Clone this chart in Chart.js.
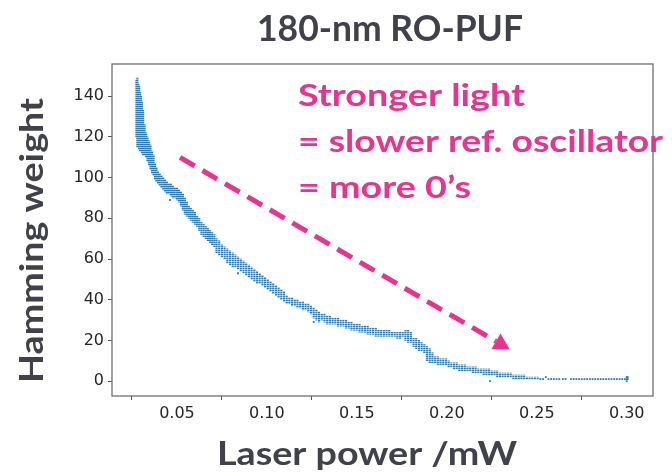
<!DOCTYPE html>
<html>
<head>
<meta charset="utf-8">
<script src="https://cdn.jsdelivr.net/npm/chart.js@4.4.1/dist/chart.umd.min.js"></script>
<style>
  html, body { margin: 0; padding: 0; background: #fff; }
</style>
</head>
<body>
<canvas id="chart" width="672" height="475"></canvas>
<script>
// Laser power (mW) of each sweep step, and the lowest / highest Hamming weight seen there
const power = [
  0.0275, 0.0280, 0.0285, 0.0290, 0.0295, 0.0300, 0.0305, 0.0312, 0.0320, 0.0328,
  0.0336, 0.0345, 0.0353, 0.0362, 0.0370, 0.0378, 0.0386, 0.0395, 0.0404, 0.0414,
  0.0424, 0.0434, 0.0444, 0.0455, 0.0466, 0.0477, 0.0488, 0.0500, 0.0511, 0.0522,
  0.0533, 0.0544, 0.0555, 0.0566, 0.0577, 0.0588, 0.0600, 0.0612, 0.0624, 0.0636,
  0.0648, 0.0660, 0.0672, 0.0684, 0.0696, 0.0708, 0.0720, 0.0735, 0.0750, 0.0765,
  0.0780, 0.0795, 0.0810, 0.0825, 0.0840, 0.0855, 0.0870, 0.0885, 0.0900, 0.0915,
  0.0930, 0.0945, 0.0960, 0.0975, 0.0990, 0.1005, 0.1020, 0.1035, 0.1050, 0.1065,
  0.1080, 0.1095, 0.1110, 0.1125, 0.1140, 0.1155, 0.1170, 0.1185, 0.1200, 0.1215,
  0.1230, 0.1245, 0.1260, 0.1275, 0.1290, 0.1305, 0.1320, 0.1335, 0.1350, 0.1365,
  0.1380, 0.1395, 0.1410, 0.1425, 0.1440, 0.1455, 0.1470, 0.1485, 0.1500, 0.1515,
  0.1530, 0.1545, 0.1560, 0.1575, 0.1590, 0.1605, 0.1620, 0.1635, 0.1650, 0.1665,
  0.1680, 0.1695, 0.1710, 0.1725, 0.1740, 0.1755, 0.1770, 0.1785, 0.1800, 0.1815,
  0.1830, 0.1845, 0.1860, 0.1875, 0.1890, 0.1905, 0.1920, 0.1935, 0.1950, 0.1965,
  0.1980, 0.1995, 0.2010, 0.2025, 0.2040, 0.2055, 0.2070, 0.2085, 0.2100, 0.2115,
  0.2130, 0.2145, 0.2160, 0.2175, 0.2190, 0.2205, 0.2220, 0.2235, 0.2250, 0.2265,
  0.2280, 0.2295, 0.2310, 0.2325, 0.2340, 0.2355, 0.2370, 0.2385, 0.2400, 0.2415,
  0.2430, 0.2445, 0.2460, 0.2475, 0.2490, 0.2505
];
const hwLow = [
  120, 115, 116, 114, 113, 113, 112, 111, 111, 110,
  108, 106, 104, 102, 101, 99, 98, 97, 96, 95,
  94, 93, 92, 92, 91, 90, 90, 89, 88, 86,
  84, 82, 81, 80, 79, 78, 77, 76, 74, 72,
  71, 70, 69, 68, 67, 66, 63, 62, 61, 60,
  58, 57, 56, 56, 55, 54, 53, 52, 51, 50,
  49, 48, 48, 47, 46, 45, 44, 43, 42, 41,
  40, 39, 38, 38, 37, 37, 36, 36, 35, 35,
  34, 33, 31, 30, 29, 30, 29, 28, 28, 28,
  28, 27, 27, 27, 26, 26, 25, 25, 25, 24,
  24, 24, 23, 23, 23, 22, 22, 22, 22, 22,
  22, 22, 22, 21, 21, 22, 20, 19, 19, 17,
  16, 15, 15, 14, 10, 9, 9, 9, 8, 8,
  8, 8, 7, 7, 6, 6, 5, 5, 5, 5,
  5, 4, 4, 4, 4, 3, 3, 3, 3, 3,
  2, 2, 2, 2, 2, 2, 1, 1, 1, 1,
  1, 1, 1, 1, 1, 1
];
const hwHigh = [
  148, 149, 146, 145, 142, 140, 137, 133, 126, 122,
  120, 118, 116, 113, 111, 107, 105, 103, 102, 101,
  100, 99, 98, 97, 97, 96, 95, 95, 94, 93,
  92, 90, 88, 86, 85, 84, 83, 81, 80, 78,
  77, 76, 75, 74, 73, 72, 70, 69, 67, 66,
  65, 64, 63, 62, 61, 60, 59, 58, 57, 56,
  55, 54, 53, 52, 51, 50, 49, 48, 47, 46,
  45, 44, 42, 41, 41, 40, 40, 39, 39, 38,
  38, 37, 36, 35, 34, 33, 33, 32, 32, 31,
  31, 31, 30, 30, 30, 29, 29, 28, 28, 28,
  27, 27, 27, 26, 26, 26, 25, 25, 25, 25,
  25, 24, 24, 24, 24, 24, 25, 25, 24, 21,
  21, 20, 19, 18, 17, 16, 14, 12, 12, 11,
  11, 11, 10, 9, 9, 9, 8, 8, 8, 7,
  7, 7, 7, 6, 6, 6, 6, 6, 5, 5,
  5, 4, 4, 4, 4, 4, 3, 3, 3, 3,
  3, 2, 2, 2, 2, 2
];

// single readings: the flat tail at high power and a few stray points
const dotPower = [
  0.2520, 0.2535, 0.2550, 0.2565, 0.2580, 0.2595, 0.2610, 0.2625, 0.2645, 0.2660,
  0.2690, 0.2705, 0.2720, 0.2735, 0.2750, 0.2765, 0.2780, 0.2795, 0.2810, 0.2825,
  0.2840, 0.2855, 0.2870, 0.2885, 0.2900, 0.2915, 0.2930, 0.2945, 0.2960, 0.2975,
  0.2990, 0.3000, 0.3000, 0.3000, 0.3005, 0.3005, 0.2240, 0.0461, 0.0839, 0.1260
];
const dotHW = [
  1, 1, 2, 1, 1, 1, 1, 1, 1, 1,
  1, 1, 1, 1, 1, 1, 1, 1, 1, 1,
  1, 1, 1, 1, 1, 1, 1, 1, 1, 1,
  1, 0, 1, 2, 1, 2, 0, 89, 53, 29
];

const xTickValues = [0.05, 0.10, 0.15, 0.20, 0.25, 0.30];
const yTickValues = [0, 20, 40, 60, 80, 100, 120, 140];

const titleText = "180-nm RO-PUF";
const xLabel = "Laser power /mW";
const yLabel = "Hamming weight";
const noteLines = ["Stronger light", "= slower ref. oscillator", "= more 0\u2019s"];
const arrowFrom = [0.0517, 109.9];
const arrowTo = [0.235, 15.6];

const BLUE = "#1f77b4";
const PINK = "#e8338f";
const GREY_TEXT = "#41414c";

// dotted look of stacked markers
function dotPattern() {
  const c = document.createElement("canvas");
  c.width = 2;
  c.height = 2;
  const g = c.getContext("2d");
  g.fillStyle = "#9cc2e0";
  g.fillRect(0, 0, 2, 2);
  g.fillStyle = "#2a7db8";
  g.fillRect(0, 0, 2, 1);
  return g.createPattern(c, "repeat");
}

// draw bold text squeezed/stretched to a given width
function fitText(ctx, text, x, y, width, size, color, angle) {
  ctx.save();
  ctx.font = "bold " + size + "px Lato, 'Open Sans', sans-serif";
  const w = ctx.measureText(text).width;
  ctx.translate(x, y);
  if (angle) ctx.rotate(angle);
  ctx.scale(width / w, 1);
  ctx.fillStyle = color;
  ctx.textAlign = "left";
  ctx.textBaseline = "alphabetic";
  ctx.fillText(text, 0, 0);
  ctx.restore();
}

const decorPlugin = {
  id: "decor",
  beforeDatasetsDraw(chart) {
    const { ctx, chartArea: a } = chart;
    ctx.save();
    ctx.strokeStyle = "#6f6f6f";
    ctx.lineWidth = 1.3;
    ctx.strokeRect(a.left, a.top, a.right - a.left, a.bottom - a.top);
    ctx.restore();
  },
  afterDraw(chart) {
    const { ctx } = chart;
    const xs = chart.scales.x;
    const ys = chart.scales.y;

    fitText(ctx, titleText, 257, 41, 266, 36, GREY_TEXT);
    fitText(ctx, xLabel, 217, 465, 300, 32, GREY_TEXT);
    fitText(ctx, yLabel, 43, 383, 285, 32, GREY_TEXT, -Math.PI / 2);

    const widths = [227, 365, 173];
    const baselines = [105.5, 151.5, 197.5];
    noteLines.forEach((t, i) => fitText(ctx, t, 298, baselines[i], widths[i], 30, PINK));

    // dashed arrow
    const x0 = xs.getPixelForValue(arrowFrom[0]);
    const y0 = ys.getPixelForValue(arrowFrom[1]);
    const x1 = xs.getPixelForValue(arrowTo[0]);
    const y1 = ys.getPixelForValue(arrowTo[1]);
    const len = Math.hypot(x1 - x0, y1 - y0);
    const ux = (x1 - x0) / len;
    const uy = (y1 - y0) / len;
    const headLen = 16;
    const headHalf = 9;
    const bx = x1 - ux * headLen;
    const by = y1 - uy * headLen;
    ctx.save();
    ctx.strokeStyle = PINK;
    ctx.fillStyle = PINK;
    ctx.lineWidth = 5;
    ctx.setLineDash([17, 9]);
    ctx.beginPath();
    ctx.moveTo(x0, y0);
    ctx.lineTo(bx, by);
    ctx.stroke();
    ctx.setLineDash([]);
    ctx.beginPath();
    ctx.moveTo(x1, y1);
    ctx.lineTo(bx - uy * headHalf, by + ux * headHalf);
    ctx.lineTo(bx + uy * headHalf, by - ux * headHalf);
    ctx.closePath();
    ctx.fill();
    ctx.restore();
  }
};

const tickFont = { family: "'DejaVu Sans', sans-serif", size: 16 };

new Chart(document.getElementById("chart"), {
  type: "bar",
  data: {
    datasets: [
      {
        type: "bar",
        data: power.map((p, i) => ({ x: p, y: [hwLow[i], hwHigh[i]] })),
        backgroundColor: dotPattern(),
        borderWidth: 0,
        borderSkipped: false,
        barThickness: 1.5,
        grouped: false
      },
      {
        type: "scatter",
        data: dotPower.map((p, i) => ({ x: p, y: dotHW[i] })),
        pointStyle: "rect",
        pointRadius: 1.3,
        pointBorderWidth: 0,
        backgroundColor: "#2a7db8",
        borderColor: "#2a7db8"
      }
    ]
  },
  options: {
    responsive: false,
    animation: false,
    events: [],
    layout: { padding: { left: 0, top: 64, right: 19, bottom: 0 } },
    plugins: { legend: { display: false }, tooltip: { enabled: false } },
    scales: {
      x: {
        type: "linear",
        min: 0.0139,
        max: 0.3146,
        offset: false,
        grid: { display: true, drawOnChartArea: false, tickLength: 4, color: "#555" },
        border: { display: false },
        ticks: {
          font: tickFont,
          color: "#262626",
          padding: 4,
          maxRotation: 0,
          autoSkip: false,
          callback: (v) => v.toFixed(2)
        },
        afterBuildTicks: (s) => { s.ticks = xTickValues.map((v) => ({ value: v })); },
        afterFit: (s) => { s.height = 79; }
      },
      y: {
        type: "linear",
        min: -7.3,
        max: 155.8,
        grid: { display: true, drawOnChartArea: false, tickLength: 4, color: "#555" },
        border: { display: false },
        ticks: {
          font: tickFont,
          color: "#262626",
          padding: 4,
          autoSkip: false,
          callback: (v) => String(v)
        },
        afterBuildTicks: (s) => { s.ticks = yTickValues.map((v) => ({ value: v })); },
        afterFit: (s) => { s.width = 112; }
      }
    }
  },
  plugins: [decorPlugin]
});
</script>
</body>
</html>
